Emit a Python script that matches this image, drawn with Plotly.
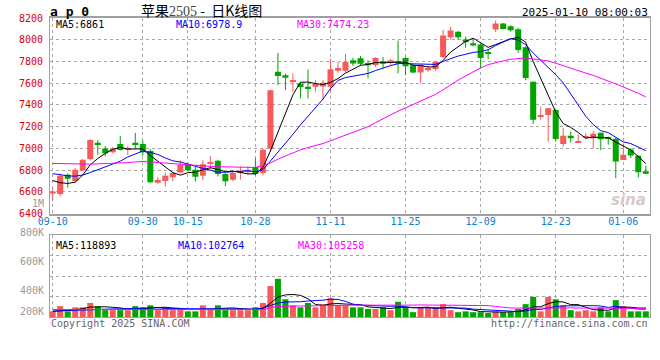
import plotly.graph_objects as go

dates = ["09-10","09-11","09-12","09-13","09-18","09-19","09-20","09-23","09-24","09-25","09-26","09-27","09-30",
         "10-08","10-09","10-10","10-11","10-14","10-15","10-16","10-17","10-18","10-21","10-22","10-23","10-24","10-25",
         "10-28","10-29","10-30","10-31",
         "11-01","11-04","11-05","11-06","11-07","11-08","11-11","11-12","11-13","11-14","11-15","11-18","11-19","11-20",
         "11-21","11-22","11-25","11-26","11-27","11-28","11-29",
         "12-02","12-03","12-04","12-05","12-06","12-09","12-10","12-11","12-12","12-13","12-16","12-17","12-18","12-19",
         "12-20","12-23","12-24","12-25","12-26","12-27","12-30","12-31",
         "01-02","01-03","01-06","01-07","01-08","01-09"]

opens  = [6585,6580,6757,6700,6800,6902,7053,7000,6965,7040,6986,7053,7040,6977,6685,6700,6735,6778,6855,6805,
          6748,6858,6887,6765,6713,6780,6790,6830,6774,7000,7705,7674,7613,7595,7567,7568,7570,7567,7714,7714,
          7811,7830,7787,7768,7801,7785,7801,7833,7766,7698,7720,7730,7842,8022,8074,8002,7968,7956,7888,8094,
          8150,8125,8096,7930,7614,7292,7308,7354,7042,7116,7054,7100,7093,7144,7100,7090,6894,6990,6933,6790]
highs  = [6635,6770,6769,6820,6900,7086,7077,7023,7015,7113,7023,7143,7075,6995,6740,6780,6785,6890,6870,6830,
          6890,6930,6896,6774,6783,6835,6835,6911,7003,7542,7878,7689,7689,7613,7726,7628,7628,7826,7796,7870,
          7835,7850,7810,7840,7840,7825,7992,7842,7772,7771,7760,7800,8090,8118,8080,8030,8009,7960,7910,8177,
          8155,8135,8110,7940,7615,7384,7370,7355,7188,7155,7131,7142,7160,7146,7108,7100,7047,7003,6938,6843]
lows   = [6525,6560,6640,6690,6790,6890,6941,6926,6955,6980,6941,7000,6935,6680,6675,6650,6700,6770,6790,6695,
          6708,6805,6743,6652,6698,6713,6760,6752,6752,6987,7583,7536,7521,7460,7460,7521,7446,7521,7695,7704,
          7756,7765,7644,7750,7735,7765,7690,7674,7690,7598,7705,7715,7830,8000,8000,7927,7940,7738,7820,8070,
          8095,8075,7880,7628,7225,7265,7063,7064,7016,7055,7054,7082,7002,6984,7035,6726,6894,6911,6733,6765]
closes = [6605,6750,6721,6805,6896,7077,7038,6956,6995,6986,7000,7035,6965,6688,6710,6750,6775,6850,6800,6740,
          6855,6870,6765,6698,6774,6790,6804,6765,6987,7536,7666,7650,7628,7565,7546,7595,7604,7728,7741,7796,
          7781,7778,7766,7832,7781,7811,7782,7756,7698,7768,7741,7797,8040,8084,8023,7978,7947,7833,7870,8150,
          8098,8087,7905,7648,7264,7306,7369,7088,7116,7093,7068,7108,7135,7085,7088,6880,6942,6934,6782,6767]
volumes = [76000,146000,76000,130000,130000,189000,146000,92000,92000,92000,92000,146000,130000,157000,92000,
           130000,92000,108000,76000,76000,157000,108000,157000,92000,92000,92000,92000,130000,189000,416000,
           513000,238000,157000,130000,189000,130000,173000,254000,157000,157000,130000,130000,108000,108000,130000,
           92000,205000,130000,65000,130000,130000,130000,173000,92000,65000,76000,65000,65000,54000,76000,
           65000,65000,108000,173000,270000,76000,270000,238000,157000,92000,76000,92000,76000,130000,76000,
           227000,146000,76000,76000,76000]

ma5_head  = [6705, 6685, 6678, 6690]
ma10_head = [6768, 6757, 6748, 6745, 6755, 6778, 6805, 6830, 6855]
ma30_head = [6862, 6860, 6858, 6857, 6856, 6856, 6858, 6860, 6860, 6864, 6870, 6876, 6880, 6876, 6870,
             6864, 6860, 6855, 6848, 6842, 6838, 6835, 6832, 6830, 6828, 6826, 6825, 6825, 6843]
vma5_head  = [75000, 80000, 85000, 100000]
vma10_head = [80000, 82000, 84000, 86000, 90000, 95000, 100000, 105000, 108000]
vma30_head = [100000] * 29

# header values as printed on the chart
price_ma_text = ["MA5:6861", "MA10:6978.9", "MA30:7474.23"]
vol_ma_text = ["MA5:118893", "MA10:102764", "MA30:105258"]

tick_dates = ["09-10","09-30","10-15","10-28","11-11","11-25","12-09","12-23","01-06"]
price_ticks = [6400, 6600, 6800, 7000, 7200, 7400, 7600, 7800, 8000, 8200]
vol_labels = ["1M", "800K", "600K", "400K", "200K"]

def moving(vals, n, head):
    out = list(head)
    for i in range(n - 1, len(vals)):
        out.append(sum(vals[i - n + 1:i + 1]) / n)
    return out

x = list(range(len(dates)))
ma5 = moving(closes, 5, ma5_head)
ma10 = moving(closes, 10, ma10_head)
ma30 = moving(closes, 30, ma30_head)
vma5 = moving(volumes, 5, vma5_head)
vma10 = moving(volumes, 10, vma10_head)
vma30 = moving(volumes, 30, vma30_head)

RED = "#F85A5A"
GREEN = "#00A600"
up = [c >= o for o, c in zip(opens, closes)]
colors = [RED if u else GREEN for u in up]

W, H = 660, 360
ML, MR, MT, MB = 50, 10, 17.5, 43
PH = H - MT - MB

def px(xp):
    return (xp - ML) / (W - ML - MR)

def py(yp):
    return 1 - (yp - MT) / PH

fig = go.Figure()

# wicks
for flag, col in [(True, RED), (False, GREEN)]:
    wx, wy = [], []
    for i in x:
        if up[i] == flag:
            wx += [i, i, None]
            wy += [lows[i], highs[i], None]
    fig.add_trace(go.Scatter(x=wx, y=wy, mode="lines", line=dict(color=col, width=1),
                             xaxis="x", yaxis="y", hoverinfo="skip"))
# bodies
body_base = [min(o, c) for o, c in zip(opens, closes)]
body_len = [max(abs(c - o), 9) for o, c in zip(opens, closes)]
fig.add_trace(go.Bar(x=x, y=body_len, base=body_base, width=0.8,
                     marker=dict(color=colors, line=dict(width=0)),
                     xaxis="x", yaxis="y", hoverinfo="skip"))
for vals, col in [(ma5, "#000000"), (ma10, "#0000FF"), (ma30, "#FF00FF")]:
    fig.add_trace(go.Scatter(x=x, y=vals, mode="lines", line=dict(color=col, width=1),
                             xaxis="x", yaxis="y", hoverinfo="skip"))
fig.add_trace(go.Bar(x=x, y=volumes, marker=dict(color=colors, line=dict(width=0)), width=0.8,
                     xaxis="x2", yaxis="y2", hoverinfo="skip"))
for vals, col in [(vma5, "#000000"), (vma10, "#0000FF"), (vma30, "#FF00FF")]:
    fig.add_trace(go.Scatter(x=x, y=vals, mode="lines", line=dict(color=col, width=1),
                             xaxis="x2", yaxis="y2", hoverinfo="skip"))

xr = [-0.36, len(dates) - 1 + 0.56]
tickvals = [dates.index(d) for d in tick_dates]
grid = dict(showgrid=True, gridcolor="#A8A8A8", griddash="dot", gridwidth=1)
mono = "DejaVu Sans Mono"

price_dom = [py(213.5), 1]
vol_dom = [0, py(235)]

fig.update_layout(
    width=W, height=H, margin=dict(l=ML, r=MR, t=MT, b=MB),
    paper_bgcolor="white", plot_bgcolor="white", showlegend=False, barmode="overlay",
    font=dict(family=mono, size=10),
    xaxis=dict(domain=[0, 1], range=xr, tickvals=tickvals, ticktext=tick_dates, anchor="y",
               tickfont=dict(color="#0A80D0", size=10, family=mono), ticks="", ticklabelstandoff=-3,
               showline=True, linecolor="#A0A0A0", linewidth=2, mirror=True, zeroline=False, **grid),
    yaxis=dict(domain=price_dom, range=[6400, 8200], tickvals=price_ticks, anchor="x",
               tickfont=dict(color="#E00000", size=10, family=mono), ticks="", ticklabelstandoff=4,
               showline=True, linecolor="#A0A0A0", linewidth=1, mirror=True, zeroline=False, **grid),
    xaxis2=dict(domain=[0, 1], range=xr, tickvals=tickvals, anchor="y2", showticklabels=False,
                showline=True, linecolor="#A0A0A0", linewidth=1, mirror=True, zeroline=False, **grid),
    yaxis2=dict(domain=vol_dom, range=[0, 1100000], tickvals=[275000, 550000, 825000], anchor="x2",
                showticklabels=False, showline=True, linecolor="#A0A0A0", linewidth=1, mirror=True,
                zeroline=False, **grid),
)

ann = []
def text(t, xp, yp, color="#000000", size=10, xanchor="left", family=mono, bold=False):
    ann.append(dict(text=("<b>%s</b>" % t) if bold else t, x=px(xp), y=py(yp), xref="paper", yref="paper",
                    xanchor=xanchor, yanchor="middle", showarrow=False,
                    font=dict(color=color, size=size, family=family)))

text("a p 0", 48, 11, size=13, bold=True)
text("苹果<span style='font-family:Liberation Serif;color:#444'>2505</span> -  日K线图", 139, 9, size=14,
     family="Noto Sans CJK SC")
text("2025-01-10 08:00:03", 650, 12, size=11, xanchor="right")
for t, xp, col in zip(price_ma_text, [54, 174, 295], ["#000000", "#0000FF", "#FF00FF"]):
    text(t, xp, 24, col, 10)
for t, xp, col in zip(vol_ma_text, [54, 176, 296], ["#000000", "#0000FF", "#FF00FF"]):
    text(t, xp, 245, col, 10)
for lab, yp in zip(vol_labels, [203, 232, 261, 290, 311]):
    text(lab, 46, yp, "#999999", 10, xanchor="right")
text("Copyright 2025 SINA.COM", 49, 324, "#666666", 10)
text("http://finance.sina.com.cn", 650, 324, "#666666", 10, xanchor="right")
text("<i><b>sina</b></i>", 648, 200, "#D8C8C8", 15, xanchor="right", family="DejaVu Sans")
fig.update_layout(annotations=ann)

fig.write_html("out.html", config={"displayModeBar": False},
               post_script="document.body.style.margin='0';document.body.style.padding='0';")
